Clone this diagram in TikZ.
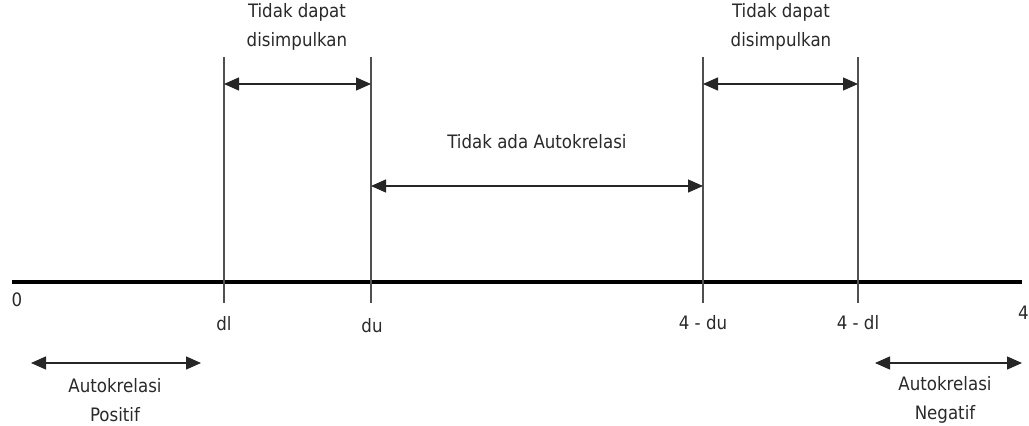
\documentclass[tikz,border=0pt]{standalone}
\usepackage{fontspec}
\setmainfont{DejaVu Sans Condensed}
\usetikzlibrary{arrows.meta}
\definecolor{txt}{HTML}{2A2A2A}
\definecolor{vline}{HTML}{505050}
\begin{document}
\begin{tikzpicture}[x=1pt,y=-1pt,
  lbl/.style={text=txt,font=\fontsize{18.5}{29}\selectfont,inner sep=0pt,align=center},
  axisline/.style={line width=4pt,black},
  mark line/.style={line width=1.3pt,vline},
  dim/.style={line width=1.4pt,black!85,{Triangle[length=15pt,width=13pt]}-{Triangle[length=15pt,width=13pt]}}]
\useasboundingbox[fill=white] (0,0) rectangle (1029,426);
% axis
\coordinate (a0) at (12,282);
\coordinate (a4) at (1022,282);
\draw[axisline] (a0) -- (a4);
% vertical lines
\foreach \n/\x in {dl/224,du/371,udu/703,udl/858}{
  \coordinate (\n t) at (\x,57);
  \coordinate (\n b) at (\x,303);
  \draw[mark line] (\n t) -- (\n b);
}
% axis labels
\node[lbl] (l0) at (17,300) {0};
\node[lbl] (ldl) at (224,324) {dl};
\node[lbl] (ldu) at (372,326) {du};
\node[lbl] (ludu) at (703,323) {4 - du};
\node[lbl] (ludl) at (858,323) {4 - dl};
\node[lbl,anchor=east] (l4) at (1029,313) {4};
% upper dims
\coordinate (d1a) at (224,84); \coordinate (d1b) at (371,84);
\draw[dim] (d1a) -- (d1b);
\node[lbl] (t1) at (297,27) {Tidak dapat\\disimpulkan};
\coordinate (d2a) at (703,84); \coordinate (d2b) at (858,84);
\draw[dim] (d2a) -- (d2b);
\node[lbl] (t2) at (781,27) {Tidak dapat\\disimpulkan};
\coordinate (d3a) at (371,186); \coordinate (d3b) at (703,186);
\draw[dim] (d3a) -- (d3b);
\node[lbl] (t3) at (537,142) {Tidak ada Autokrelasi};
% lower dims
\coordinate (d4a) at (31,363); \coordinate (d4b) at (201,363);
\draw[dim] (d4a) -- (d4b);
\node[lbl] (t4) at (115,400) {Autokrelasi\\Positif};
\coordinate (d5a) at (875,363); \coordinate (d5b) at (1022,363);
\draw[dim] (d5a) -- (d5b);
\node[lbl] (t5) at (945,400) {Autokrelasi\\Negatif};
\end{tikzpicture}
\end{document}
